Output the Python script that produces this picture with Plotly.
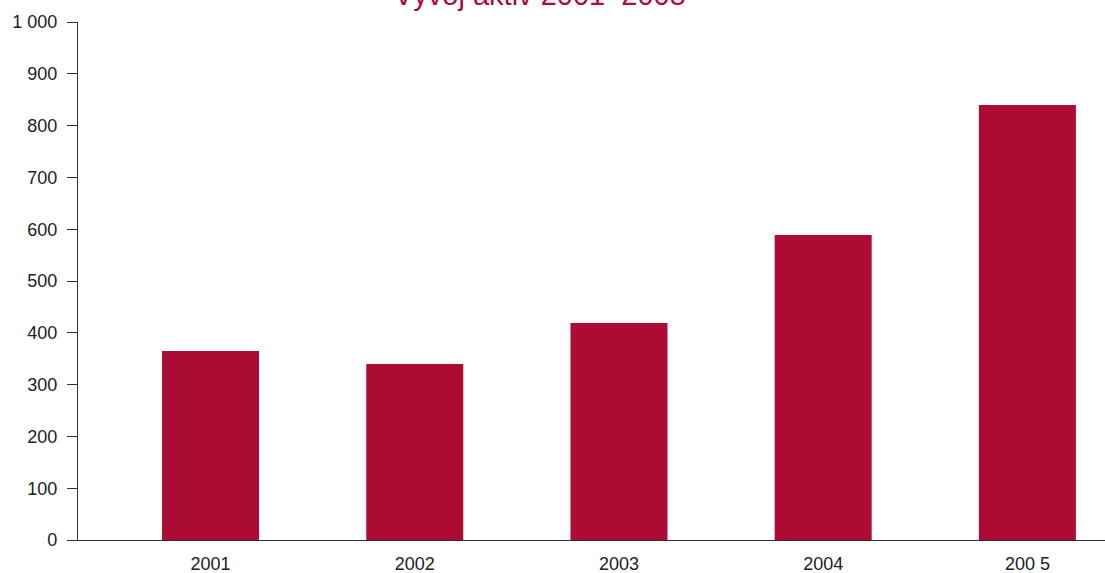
import plotly.graph_objects as go

categories = ["2001", "2002", "2003", "2004", "2005"]
category_labels = ["2001", "2002", "2003", "2004", "200 5"]
values = [365, 340, 419, 589, 840]
y_tick_vals = [0, 100, 200, 300, 400, 500, 600, 700, 800, 900, 1000]
y_tick_text = ["0", "100", "200", "300", "400", "500", "600", "700", "800", "900", "1 000"]
title_text = "Vývoj aktiv 2001–2005"

BAR = "#AC0C33"
FONT = "Liberation Sans, Arial, Helvetica, sans-serif"

fig = go.Figure(
    go.Bar(
        x=list(range(len(categories))),
        y=values,
        marker=dict(color=BAR, line=dict(width=0)),
        width=0.475,
        hoverinfo="y",
    )
)

fig.update_layout(
    width=1105,
    height=573,
    margin=dict(l=78, r=0, t=22, b=33),
    paper_bgcolor="white",
    plot_bgcolor="white",
    showlegend=False,
    font=dict(family=FONT, size=18, color="#222"),
    annotations=[
        dict(
            text=title_text,
            xref="paper", yref="paper",
            x=(540 - 78) / 1027, y=1 + 9 / 518,
            xanchor="center", yanchor="bottom",
            showarrow=False,
            font=dict(family=FONT, size=29, color=BAR),
        )
    ],
)

fig.update_xaxes(
    range=[-0.649, 4.38],
    tickmode="array",
    tickvals=list(range(len(categories))),
    ticktext=category_labels,
    showgrid=False,
    zeroline=False,
    showline=True,
    linecolor="#333",
    linewidth=1.3,
    ticks="",
    ticklabelstandoff=7,
    tickfont=dict(size=18, color="#222"),
)

fig.update_yaxes(
    range=[0, 1000],
    tickmode="array",
    tickvals=y_tick_vals,
    ticktext=y_tick_text,
    showgrid=False,
    zeroline=False,
    showline=True,
    linecolor="#333",
    linewidth=1.3,
    ticks="outside",
    ticklen=10,
    tickcolor="#333",
    tickwidth=1.3,
    ticklabelstandoff=6,
    tickfont=dict(size=18, color="#222"),
)

fig.write_html(
    "out.html",
    config={"displayModeBar": False},
    post_script="document.body.style.margin='0';document.body.style.overflow='hidden';",
)
